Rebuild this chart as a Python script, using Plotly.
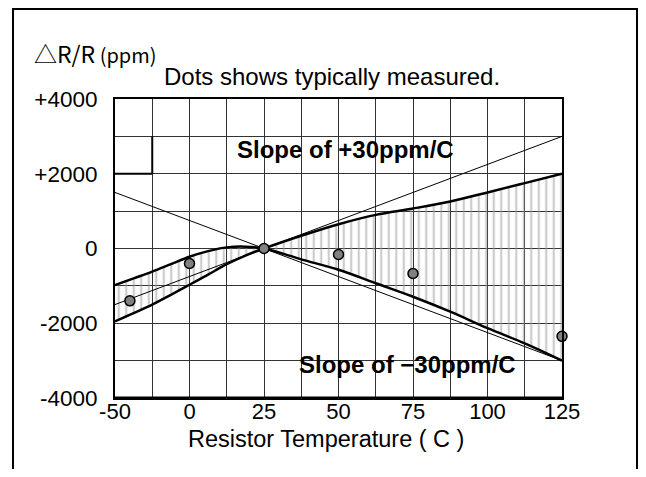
import plotly.graph_objects as go

# ---- data (plot coordinates: x in degC as drawn, y in ppm) ----
curve_x = [-25, -18.75, -12.5, -6.25, 0, 6.25, 12.5, 18.75, 25, 37.5, 50, 62.5, 75, 87.5, 100, 112.5, 125]
# curve rising through (25,0): lower-left -> upper-right
rise_y = [-1950, -1730, -1500, -1240, -970, -700, -420, -190, 0, 340, 650, 900, 1070, 1260, 1500, 1750, 2000]
# curve falling through (25,0): upper-left -> lower-right
fall_y = [-980, -800, -620, -420, -220, -70, 30, 50, 0, -290, -570, -930, -1290, -1690, -2130, -2540, -3000]

slope_x = [-25, 125]
plus30_y = [-1500, 3000]
minus30_y = [1500, -3000]

dots_x = [-20, 0, 25, 50, 75, 125]
dots_y = [-1400, -400, 0, -160, -670, -2350]

x_tick_vals = [-25, 0, 25, 50, 75, 100, 125]
x_tick_text = ["-50", "0", "25", "50", "75", "100", "125"]
y_tick_vals = [-4000, -2000, 0, 2000, 4000]
y_tick_text = ["-4000", "-2000", "0", "+2000", "+4000"]

FONT = "Liberation Sans, Arial, sans-serif"

fig = go.Figure()

fig.add_trace(go.Scatter(x=curve_x, y=rise_y, mode="lines",
                         line=dict(color="black", width=2.5, shape="spline"),
                         hoverinfo="skip", showlegend=False))
fig.add_trace(go.Scatter(x=curve_x, y=fall_y, mode="lines",
                         line=dict(color="black", width=2.5, shape="spline"),
                         fill="tonexty", fillcolor="rgba(0,0,0,0)",
                         fillpattern=dict(shape="|", size=7.5, solidity=0.3,
                                          fgcolor="#9a9a9a", bgcolor="rgba(0,0,0,0)",
                                          fillmode="overlay"),
                         hoverinfo="skip", showlegend=False))
fig.add_trace(go.Scatter(x=slope_x, y=plus30_y, mode="lines",
                         line=dict(color="black", width=1),
                         hoverinfo="skip", showlegend=False))
fig.add_trace(go.Scatter(x=slope_x, y=minus30_y, mode="lines",
                         line=dict(color="black", width=1),
                         hoverinfo="skip", showlegend=False))
fig.add_trace(go.Scatter(x=dots_x, y=dots_y, mode="markers",
                         marker=dict(size=10, color="#808080", line=dict(color="black", width=1.5)),
                         cliponaxis=False, hoverinfo="skip", showlegend=False))

fig.update_layout(
    width=630, height=461,
    margin=dict(l=107, r=76, t=91, b=71),
    paper_bgcolor="white", plot_bgcolor="white",
    font=dict(family=FONT, color="black", size=22),
    showlegend=False,
)

fig.update_xaxes(range=[-25, 125], tickvals=x_tick_vals, ticktext=x_tick_text,
                 showgrid=True, gridcolor="#333", gridwidth=1,
                 minor=dict(dtick=12.5, tick0=0, showgrid=True, gridcolor="#333", gridwidth=1),
                 showline=True, linecolor="black", linewidth=2, mirror=True,
                 ticks="", ticklabelstandoff=-7, zeroline=False,
                 tickfont=dict(size=22, family=FONT))
fig.update_yaxes(range=[-4000, 4000], tickvals=y_tick_vals, ticktext=y_tick_text,
                 showgrid=True, gridcolor="#333", gridwidth=1,
                 minor=dict(dtick=1000, tick0=0, showgrid=True, gridcolor="#333", gridwidth=1),
                 showline=True, linecolor="black", linewidth=2, mirror=True,
                 ticks="", ticklabelstandoff=11, zeroline=False,
                 tickfont=dict(size=22.5, family=FONT))

# thick scale box in the top-left cell
fig.add_shape(type="line", xref="x", yref="y", x0=-12.5, x1=-12.5, y0=2000, y1=3000,
              line=dict(color="black", width=2))
fig.add_shape(type="line", xref="x", yref="y", x0=-25, x1=-12.5, y0=2000, y1=2000,
              line=dict(color="black", width=2))
# thicker bottom axis
fig.add_shape(type="line", xref="paper", yref="paper", x0=0, x1=1, y0=0, y1=0,
              line=dict(color="black", width=3))
# outer frame
fig.add_shape(type="rect", xref="paper", yref="paper", x0=-0.2282, x1=1.1678, y0=-0.4, y1=1.301,
              line=dict(color="black", width=2))

fig.add_annotation(xref="paper", yref="paper", x=-0.186, y=1.154, xanchor="left", yanchor="middle",
                   text="<span style='font-size:23px'>△R/R</span><span style='font-size:20px'> (ppm)</span>",
                   showarrow=False, font=dict(family="Noto Sans CJK JP, sans-serif", color="black"))
fig.add_annotation(xref="paper", yref="paper", x=0.4855, y=1.0736, xanchor="center", yanchor="middle",
                   text="Dots shows typically measured.", showarrow=False,
                   font=dict(family=FONT, size=24, color="black"))
fig.add_annotation(xref="x", yref="y", x=52.3, y=2636, xanchor="center", yanchor="middle",
                   text="<b>Slope of +30ppm/C</b>", showarrow=False,
                   font=dict(family=FONT, size=24, color="black"))
fig.add_annotation(xref="x", yref="y", x=73.0, y=-3112, xanchor="center", yanchor="middle",
                   text="<b>Slope of −30ppm/C</b>", showarrow=False,
                   font=dict(family=FONT, size=24, color="black"))
fig.add_annotation(xref="paper", yref="paper", x=0.472, y=-0.1371, xanchor="center", yanchor="middle",
                   text="Resistor Temperature ( C )", showarrow=False,
                   font=dict(family=FONT, size=23.5, color="black"))

fig.write_html("out.html")
